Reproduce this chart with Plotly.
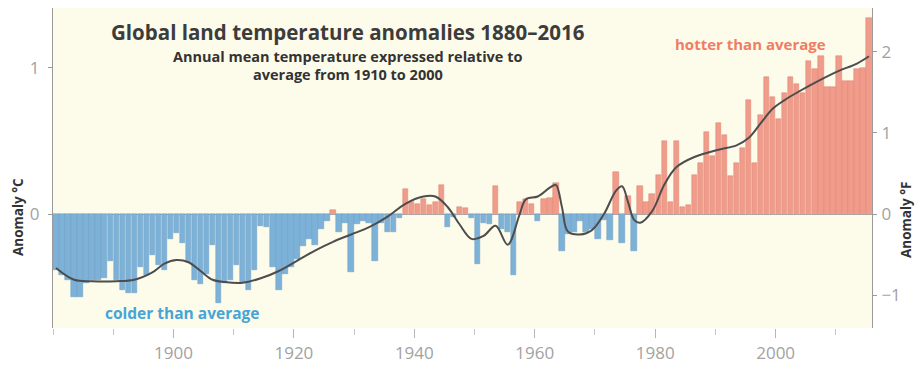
import plotly.graph_objects as go

# ---- data ----
years = list(range(1880, 2016))
anomaly_c = [
    -0.38, -0.42, -0.45, -0.57, -0.57, -0.47, -0.45, -0.45, -0.44, -0.32,   # 1880-1889
    -0.45, -0.52, -0.54, -0.54, -0.36, -0.42, -0.28, -0.35, -0.38, -0.17,   # 1890-1899
    -0.13, -0.20, -0.33, -0.45, -0.48, -0.41, -0.21, -0.61, -0.47, -0.45,   # 1900-1909
    -0.35, -0.47, -0.52, -0.38, -0.08, -0.09, -0.36, -0.52, -0.41, -0.36,   # 1910-1919
    -0.31, -0.22, -0.17, -0.21, -0.10, -0.05, 0.03, -0.12, -0.06, -0.40,    # 1920-1929
    -0.07, -0.05, -0.06, -0.32, -0.06, -0.12, -0.12, -0.03, 0.17, 0.08,     # 1930-1939
    0.07, 0.10, 0.06, 0.08, 0.20, -0.09, -0.02, 0.05, 0.04, -0.03,          # 1940-1949
    -0.34, -0.06, -0.07, 0.19, -0.10, -0.12, -0.42, 0.08, 0.10, 0.07,       # 1950-1959
    -0.05, 0.10, 0.11, 0.21, -0.25, -0.14, -0.12, -0.05, -0.12, -0.10,      # 1960-1969
    -0.17, -0.04, -0.18, 0.29, -0.20, 0.12, -0.25, 0.19, 0.08, 0.14,        # 1970-1979
    0.27, 0.50, 0.08, 0.50, 0.05, 0.06, 0.27, 0.35, 0.56, 0.40,             # 1980-1989
    0.62, 0.54, 0.26, 0.35, 0.45, 0.78, 0.35, 0.68, 0.94, 0.80,             # 1990-1999
    0.65, 0.83, 0.94, 0.89, 0.83, 1.05, 0.99, 1.08, 0.87, 0.87,             # 2000-2009
    1.08, 0.91, 0.91, 0.99, 1.00, 1.34,                                     # 2010-2015
]
assert len(years) == len(anomaly_c)

smooth_years = [1880, 1883, 1886, 1890, 1893, 1896, 1898, 1900, 1902, 1904,
                1906, 1908, 1911, 1914, 1917, 1920, 1923, 1926, 1929, 1932,
                1935, 1938, 1941, 1943, 1945, 1947, 1949, 1951, 1953, 1955,
                1957, 1958, 1960, 1962, 1963, 1964, 1965, 1967, 1969, 1971,
                1973, 1974, 1975, 1976, 1977, 1979, 1981, 1983, 1986, 1990,
                1993, 1995, 1997, 1999, 2001, 2003, 2007, 2010, 2013, 2015]
smooth_c = [-0.37, -0.45, -0.46, -0.46, -0.45, -0.40, -0.34, -0.315, -0.33, -0.39,
            -0.45, -0.465, -0.47, -0.44, -0.39, -0.32, -0.25, -0.19, -0.14, -0.09,
            -0.02, 0.07, 0.12, 0.12, 0.05, -0.07, -0.17, -0.15, -0.08, -0.21,
            0.0, 0.10, 0.12, 0.18, 0.20, 0.05, -0.12, -0.14, -0.11, 0.0,
            0.16, 0.19, 0.08, -0.04, -0.06, 0.02, 0.20, 0.32, 0.39, 0.44,
            0.47, 0.52, 0.62, 0.72, 0.78, 0.83, 0.92, 0.98, 1.03, 1.08]

x_ticks = [1900, 1920, 1940, 1960, 1980, 2000]
c_ticks = [0, 1]
f_ticks = [-1, 0, 1, 2]

C_TO_F = 1.8
Y_RANGE_C = [-0.78, 1.41]

BLUE = "rgb(125,178,216)"
PINK = "rgb(241,156,138)"
bar_colors = [BLUE if v < 0 else PINK for v in anomaly_c]
edge_colors = ["rgb(105,155,195)" if v < 0 else "rgb(220,130,115)" for v in anomaly_c]

fig = go.Figure()
fig.add_trace(go.Bar(
    x=years, y=anomaly_c, offset=0.05, width=0.9,
    marker=dict(color=bar_colors, line=dict(color=edge_colors, width=0.5)),
    hoverinfo="x+y", showlegend=False,
))
fig.add_trace(go.Scatter(
    x=[y + 0.5 for y in smooth_years], y=smooth_c, mode="lines",
    line=dict(color="#4d4d4d", width=2, shape="spline", smoothing=1.0),
    showlegend=False, hoverinfo="skip",
))
# right-hand axis in degrees F (invisible carrier trace)
fig.add_trace(go.Scatter(
    x=[y + 0.5 for y in smooth_years], y=[v * C_TO_F for v in smooth_c],
    yaxis="y2", mode="lines", line=dict(width=0, color="rgba(0,0,0,0)"),
    showlegend=False, hoverinfo="skip",
))

FONT = "Open Sans, DejaVu Sans, sans-serif"
axis_font = dict(family=FONT, size=17, color="#a2a2a2")

fig.update_layout(
    width=921, height=369,
    margin=dict(l=53, r=49, t=8, b=41, autoexpand=False),
    paper_bgcolor="white",
    plot_bgcolor="#fdfbea",
    bargap=0,
    xaxis=dict(
        range=[1880, 2016], tickvals=x_ticks, showgrid=False, zeroline=False,
        showline=False, ticks="outside", ticklen=9, tickcolor="#b5b5b5", tickwidth=1,
        minor=dict(dtick=10, tick0=1880, ticks="outside", ticklen=6, tickcolor="#c5c5c5"),
        tickfont=dict(family=FONT, size=17, color="#a2a2a2"),
        ticklabelstandoff=1, automargin=False,
    ),
    yaxis=dict(
        range=Y_RANGE_C, tickvals=c_ticks, showgrid=False,
        zeroline=True, zerolinecolor="#a9a9a9", zerolinewidth=1,
        showline=True, linecolor="#9a9a9a", linewidth=1,
        ticks="outside", ticklen=4, tickcolor="#9a9a9a",
        tickfont=axis_font, ticklabelstandoff=5, automargin=False,
    ),
    yaxis2=dict(
        range=[Y_RANGE_C[0] * C_TO_F, Y_RANGE_C[1] * C_TO_F], tickvals=f_ticks,
        overlaying="y", side="right", showgrid=False, zeroline=False,
        showline=True, linecolor="#9a9a9a", linewidth=1,
        ticks="outside", ticklen=4, tickcolor="#9a9a9a",
        tickfont=axis_font, ticklabelstandoff=1, automargin=False,
    ),
    annotations=[
        dict(text="<b>Global land temperature anomalies 1880–2016</b>",
             xref="paper", yref="paper", x=0.360, y=0.925, xanchor="center", yanchor="middle",
             showarrow=False, font=dict(family=FONT, size=20.5, color="#3c3c3c")),
        dict(text="<b>Annual mean temperature expressed relative to</b>",
             xref="paper", yref="paper", x=0.360, y=0.849, xanchor="center", yanchor="middle",
             showarrow=False, font=dict(family=FONT, size=14.5, color="#333333")),
        dict(text="<b>average from 1910 to 2000</b>",
             xref="paper", yref="paper", x=0.360, y=0.793, xanchor="center", yanchor="middle",
             showarrow=False, font=dict(family=FONT, size=14.5, color="#333333")),
        dict(text="<b>hotter than average</b>",
             xref="paper", yref="paper", x=0.852, y=0.8875, xanchor="center", yanchor="middle",
             showarrow=False, font=dict(family=FONT, size=15, color="rgb(240,125,98)")),
        dict(text="<b>colder than average</b>",
             xref="paper", yref="paper", x=0.158, y=0.047, xanchor="center", yanchor="middle",
             showarrow=False, font=dict(family=FONT, size=15.5, color="rgb(70,165,215)")),
        dict(text="<b>Anomaly °C</b>", textangle=-90,
             xref="paper", yref="paper", x=-0.0427, y=0.347, xanchor="center", yanchor="middle",
             showarrow=False, font=dict(family=FONT, size=13.5, color="#333333")),
        dict(text="<b>Anomaly °F</b>", textangle=-90,
             xref="paper", yref="paper", x=1.0415, y=0.3375, xanchor="center", yanchor="middle",
             showarrow=False, font=dict(family=FONT, size=13.5, color="#333333")),
    ],
)

fig.write_html("out.html", config={"displayModeBar": False},
               post_script="document.body.style.margin='0';")
